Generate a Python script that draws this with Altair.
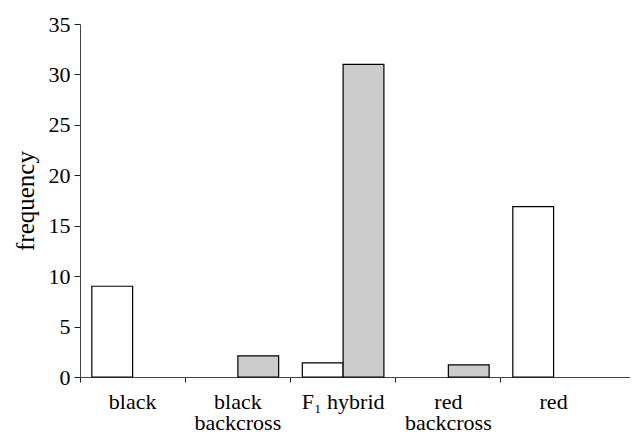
import altair as alt
import pandas as pd

categories = ["black", "black backcross", "F₁ hybrid", "red backcross", "red"]
series_names = ["white", "grey"]
white_values = [9.0, 0.0, 1.4, 0.0, 16.9]
grey_values = [0.0, 2.1, 31.0, 1.2, 0.0]

rows = []
for c, w, g in zip(categories, white_values, grey_values):
    rows.append({"category": c, "series": "white", "value": w})
    rows.append({"category": c, "series": "grey", "value": g})
df = pd.DataFrame(rows)

FONT = "'Liberation Serif', 'Times New Roman', Times, serif"

chart = alt.Chart(df).transform_filter(
    alt.datum.value > 0
).mark_bar(stroke="black", strokeWidth=1.2).encode(
    x=alt.X(
        "category:N",
        sort=categories,
        scale=alt.Scale(paddingInner=0, paddingOuter=0.113, align=0),
        axis=alt.Axis(
            title=None,
            labelAngle=0,
            labelFont=FONT,
            labelFontSize=22,
            labelColor="black",
            labelLineHeight=21,
            labelPadding=9,
            tickSize=5,
            tickColor="#222",
            domainColor="#444",
            bandPosition=0,
            labelExpr="indexof(datum.label, 'backcross') > 0 ? split(datum.label, ' ') : datum.label",
        ),
    ),
    xOffset=alt.XOffset(
        "series:N",
        sort=series_names,
        scale=alt.Scale(paddingInner=0, paddingOuter=0.29),
    ),
    y=alt.Y(
        "value:Q",
        scale=alt.Scale(domain=[0, 35], nice=False),
        axis=alt.Axis(
            title="frequency",
            values=[0, 5, 10, 15, 20, 25, 30, 35],
            grid=False,
            labelFont=FONT,
            labelFontSize=22,
            labelColor="black",
            labelPadding=4,
            tickSize=6,
            tickColor="#222",
            domainColor="#444",
            titleFont=FONT,
            titleFontSize=25,
            titleFontWeight="normal",
            titleColor="black",
            titlePadding=10,
        ),
    ),
    fill=alt.Fill(
        "series:N",
        sort=series_names,
        scale=alt.Scale(domain=series_names, range=["white", "#cccccc"]),
        legend=None,
    ),
).properties(
    width=550,
    height=353,
    autosize=alt.AutoSizeParams(type="none"),
    padding={"left": 72, "top": 16, "right": 0, "bottom": 62},
).configure_view(stroke=None)

chart.save("out.html", embed_options={"renderer": "svg", "actions": False})
